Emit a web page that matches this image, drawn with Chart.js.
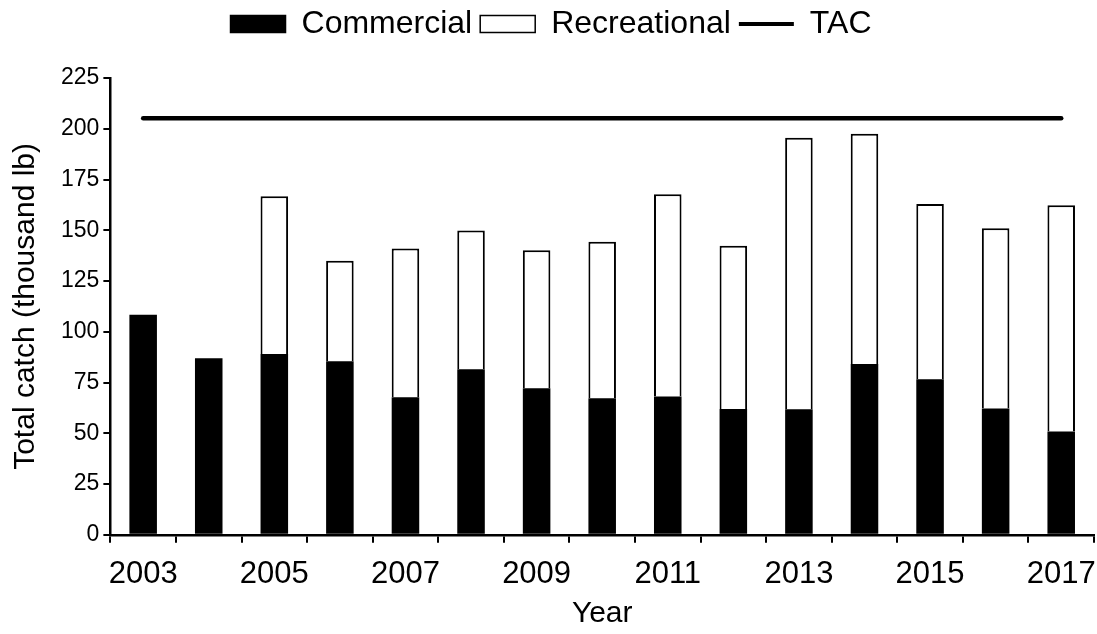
<!DOCTYPE html>
<html>
<head>
<meta charset="utf-8">
<title>Total catch</title>
<script src="https://cdn.jsdelivr.net/npm/chart.js@4"></script>
<style>
  html, body { margin: 0; padding: 0; background: #ffffff; }
  #wrap { width: 1097px; height: 634px; position: relative; }
</style>
</head>
<body>
<div id="wrap"><canvas id="catchChart"></canvas></div>
<script>
// values (thousand lb)
const years = ["2003", "2004", "2005", "2006", "2007", "2008", "2009", "2010",
    "2011", "2012", "2013", "2014", "2015", "2016", "2017"];
const commercial = [108.4, 87.0, 89.1, 85.5, 67.8, 81.5, 72.2, 67.3, 68.1, 62.0, 61.9, 84.1, 76.6, 62.2, 50.9];
const recreational = [null, null, 77.7, 49.5, 73.2, 68.4, 67.9, 77.0, 99.7, 80.4, 133.7, 113.4, 86.3, 88.8, 111.4];
const tac = [205.2, 205.2, 205.2, 205.2, 205.2, 205.2, 205.2, 205.2, 205.2, 205.2, 205.2, 205.2, 205.2, 205.2, 205.2];
const yMin = 0, yMax = 225, yStep = 25;

const FONT = "'Liberation Sans', Arial, sans-serif";

// push the plot area down below the legend
const legendGap = {
    id: "legendGap",
    beforeInit(chart) {
        const fit = chart.legend.fit;
        chart.legend.fit = function () {
            fit.bind(chart.legend)();
            this.height += 28;
        };
    }
};

const ctx = document.getElementById("catchChart").getContext("2d");

new Chart(ctx, {
    type: "bar",
    data: {
        labels: years,
        datasets: [
            {
                label: "Commercial",
                data: commercial,
                backgroundColor: "#000000",
                borderWidth: 0,
                stack: "catch",
                categoryPercentage: 1,
                barPercentage: 0.42,
            },
            {
                label: "Recreational",
                data: recreational,
                backgroundColor: "#ffffff",
                borderColor: "#000000",
                borderWidth: 2,
                stack: "catch",
                categoryPercentage: 1,
                barPercentage: 0.42,
            },
            {
                type: "line",
                label: "TAC",
                data: tac,
                borderColor: "#000000",
                backgroundColor: "#000000",
                borderWidth: 4.5,
                borderCapStyle: "round",
                pointRadius: 0,
                stack: "tac",
            },
        ],
    },
    options: {
        responsive: true,
        maintainAspectRatio: false,
        animation: false,
        layout: { padding: { left: 8, right: 3, top: 0, bottom: 0 } },
        plugins: {
            tooltip: { enabled: false },
            legend: {
                position: "top",
                labels: {
                    color: "#000000",
                    font: { family: FONT, size: 32 },
                    padding: 8,
                    usePointStyle: true,
                    pointStyleWidth: 55,
                    boxHeight: 17,
                    generateLabels: (chart) => {
                        const items = Chart.defaults.plugins.legend.labels.generateLabels(chart);
                        items.forEach(item => {
                            const i = item.datasetIndex;
                            item.pointStyle = i < 2 ? "rect" : "line";
                            item.strokeStyle = "#000000";
                            item.lineWidth = i === 2 ? 4 : 1.5;
                            item.fillStyle = i === 1 ? "#ffffff" : "#000000";
                        });
                        return items.sort((a, b) => a.datasetIndex - b.datasetIndex);
                    },
                },
            },
        },
        scales: {
            x: {
                stacked: true,
                offset: true,
                // don't reserve side room for the first/last year label
                afterFit: (scale) => {
                    scale.paddingLeft = 0;
                    scale.paddingRight = 0;
                },
                grid: {
                    offset: true,
                    drawOnChartArea: false,
                    drawTicks: true,
                    tickLength: 8,
                    color: "#000000",
                    lineWidth: 2,
                },
                border: { display: true, color: "#000000", width: 2.5 },
                ticks: {
                    color: "#000000",
                    font: { family: FONT, size: 31 },
                    padding: 13,
                    autoSkip: false,
                    maxRotation: 0,
                    callback: function (val, i) {
                        // only every other year gets a label
                        return i % 2 === 0 ? this.getLabelForValue(val) : "";
                    },
                },
                title: {
                    display: true,
                    text: "Year",
                    color: "#000000",
                    font: { family: FONT, size: 30, lineHeight: 1.2 },
                    padding: { top: -10, bottom: 2 },
                },
            },
            y: {
                stacked: true,
                min: yMin,
                max: yMax,
                grid: {
                    drawOnChartArea: false,
                    drawTicks: true,
                    tickLength: 7,
                    color: "#000000",
                    lineWidth: 2,
                },
                border: { display: true, color: "#000000", width: 2.5 },
                ticks: {
                    stepSize: yStep,
                    color: "#000000",
                    font: { family: FONT, size: 23 },
                    padding: 4,
                },
                title: {
                    display: true,
                    text: "Total catch (thousand lb)",
                    color: "#000000",
                    font: { family: FONT, size: 30, lineHeight: 1.2 },
                    padding: { top: 0, bottom: 13 },
                },
            },
        },
    },
    plugins: [legendGap],
});
</script>
</body>
</html>
